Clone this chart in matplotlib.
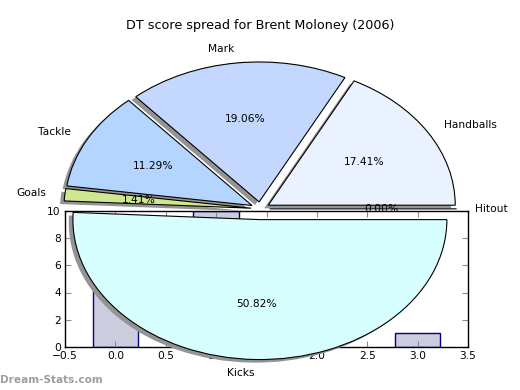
import matplotlib
matplotlib.use('Agg')
import matplotlib.pyplot as plt

# DT points per stat (share of total 425)
labels = ['Hitout', 'Handballs', 'Mark', 'Tackle', 'Goals', 'Kicks']
points = [0, 74, 81, 48, 6, 216]
colors = ['#e0e0e0', '#eaf1ff', '#c4d8ff', '#b3d5ff', '#cfe88f', '#d8ffff']
explode = [0.05, 0.05, 0.05, 0.05, 0.05, 0.077]

# leftover bars sitting under the pie
bar_x = [0, 1, 2, 3]
bar_heights = [6, 10, 3, 1]

title = 'DT score spread for Brent Moloney (2006)'

fig = plt.figure(figsize=(5.2, 3.9), dpi=100)

# bar axes in the bottom half
ax_bar = fig.add_subplot(212)
ax_bar.bar(bar_x, bar_heights, width=0.45, color='#ccccdf', edgecolor='#000080',
           linewidth=1.0)
ax_bar.set_xlim(-0.5, 3.5)
ax_bar.set_ylim(0, 10)
ax_bar.set_xticks([-0.5, 0.0, 0.5, 1.0, 1.5, 2.0, 2.5, 3.0, 3.5])
ax_bar.set_yticks([0, 2, 4, 6, 8, 10])
ax_bar.tick_params(direction='in', top=True, right=True, length=4, width=0.8,
                   color='0.55', labelsize=7.7, pad=3)
for s in ax_bar.spines.values():
    s.set_linewidth(1.0)

# pie drawn over everything, not kept circular
ax_pie = fig.add_axes([0.051, 0.016, 0.899, 0.897])
ax_pie.pie(points, labels=labels, colors=colors, explode=explode,
           autopct='%1.2f%%',
           shadow={'ox': -0.016, 'oy': -0.016, 'facecolor': '0.58',
                   'linewidth': 0, 'alpha': 1.0},
           wedgeprops={'edgecolor': 'black', 'linewidth': 0.8},
           textprops={'fontsize': 7.7})
ax_pie.set_aspect('auto')
ax_pie.set_xlim(-1.25, 1.25)
ax_pie.set_ylim(-1.25, 1.25)

fig.text(0.5, 1 - 25 / 390, title, ha='center', va='center', fontsize=9.2)
fig.text(0.0, 1 - 380 / 390, 'Dream-Stats.com', ha='left', va='center',
         fontsize=7.6, fontweight='bold', color='0.62')

fig.savefig('out.png', dpi=100)
